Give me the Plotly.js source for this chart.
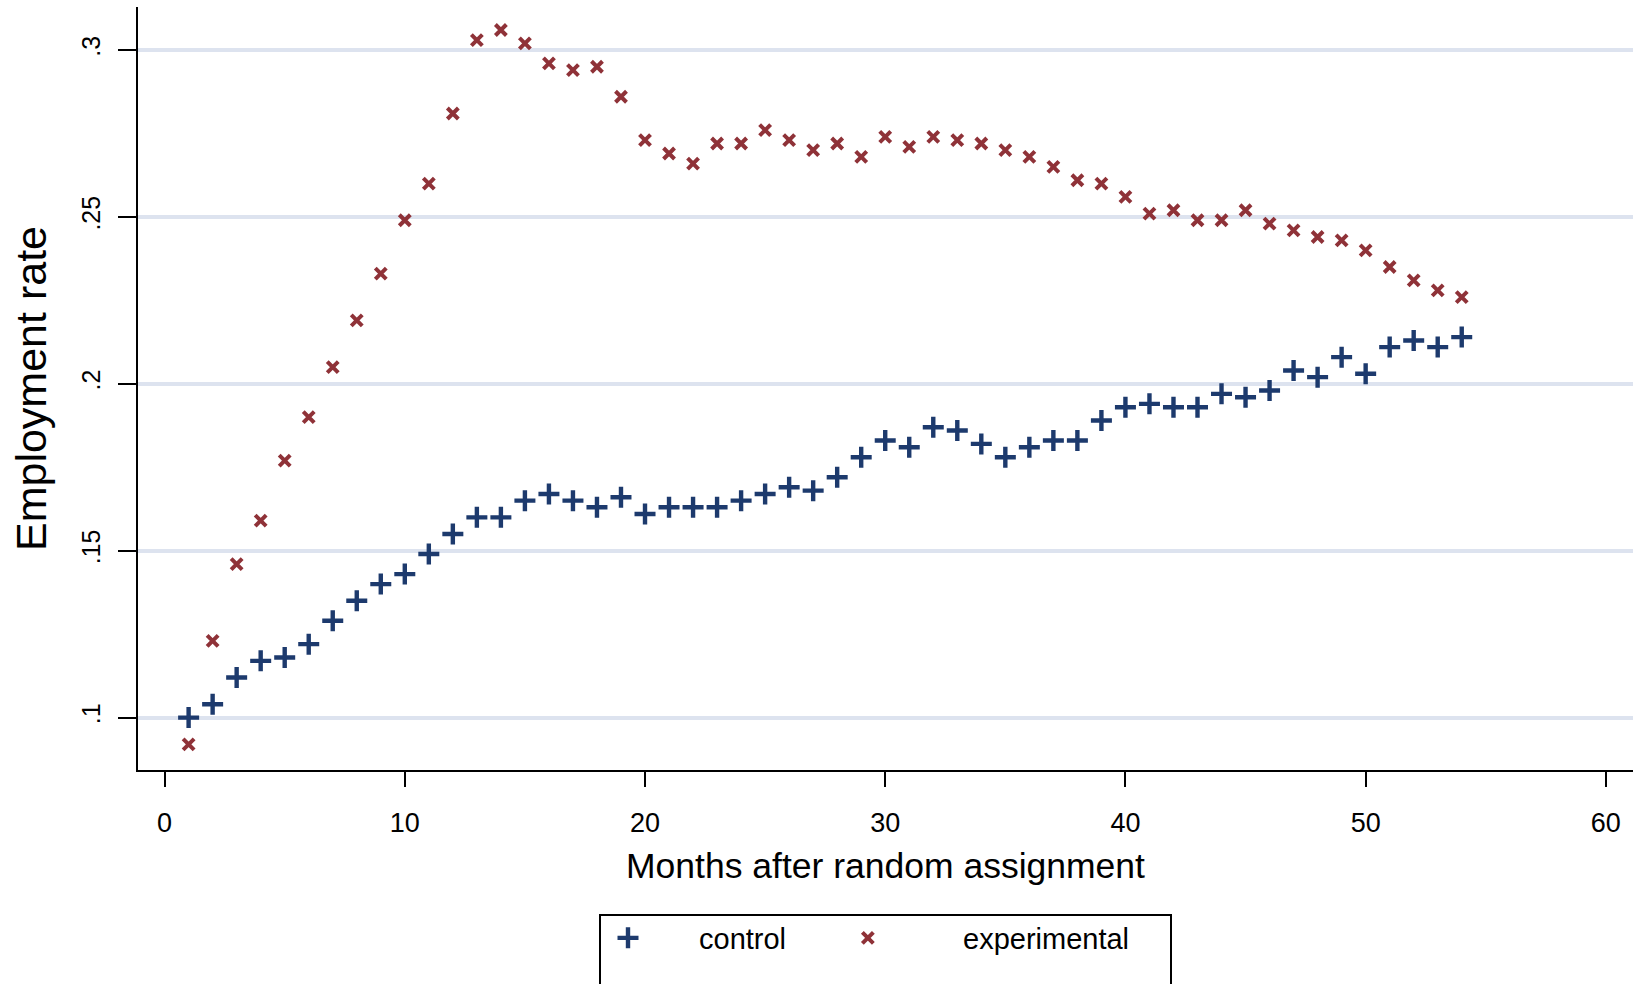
<!DOCTYPE html>
<html>
<head>
<meta charset="utf-8">
<script src="https://cdn.plot.ly/plotly-3.0.1.min.js"></script>
<style>
  html, body { margin: 0; padding: 0; background: #ffffff; }
  #chart { width: 1633px; height: 984px; }
</style>
</head>
<body>
<div id="chart"></div>
<script>
// Months since random assignment
const months = [
  1, 2, 3, 4, 5, 6, 7, 8, 9, 10,
  11, 12, 13, 14, 15, 16, 17, 18, 19, 20,
  21, 22, 23, 24, 25, 26, 27, 28, 29, 30,
  31, 32, 33, 34, 35, 36, 37, 38, 39, 40,
  41, 42, 43, 44, 45, 46, 47, 48, 49, 50,
  51, 52, 53, 54
];

// Employment rate, control group
const controlRate = [
  0.100, 0.104, 0.112, 0.117, 0.118, 0.122, 0.129, 0.135, 0.140, 0.143,
  0.149, 0.155, 0.160, 0.160, 0.165, 0.167, 0.165, 0.163, 0.166, 0.161,
  0.163, 0.163, 0.163, 0.165, 0.167, 0.169, 0.168, 0.172, 0.178, 0.183,
  0.181, 0.187, 0.186, 0.182, 0.178, 0.181, 0.183, 0.183, 0.189, 0.193,
  0.194, 0.193, 0.193, 0.197, 0.196, 0.198, 0.204, 0.202, 0.208, 0.203,
  0.211, 0.213, 0.211, 0.214
];

// Employment rate, experimental group
const experimentalRate = [
  0.092, 0.123, 0.146, 0.159, 0.177, 0.190, 0.205, 0.219, 0.233, 0.249,
  0.260, 0.281, 0.303, 0.306, 0.302, 0.296, 0.294, 0.295, 0.286, 0.273,
  0.269, 0.266, 0.272, 0.272, 0.276, 0.273, 0.270, 0.272, 0.268, 0.274,
  0.271, 0.274, 0.273, 0.272, 0.270, 0.268, 0.265, 0.261, 0.260, 0.256,
  0.251, 0.252, 0.249, 0.249, 0.252, 0.248, 0.246, 0.244, 0.243, 0.240,
  0.235, 0.231, 0.228, 0.226
];

// Axis ticks
const xTickVals = [0, 10, 20, 30, 40, 50, 60];
const yTickVals = [0.1, 0.15, 0.2, 0.25, 0.3];
const yTickText = ['.1', '.15', '.2', '.25', '.3'];

// Legend labels (non-breaking spaces widen the gap before the second label)
const seriesNames = ['control\u2009', '\u00a0\u00a0\u00a0experimental'];

const FONT = 'Liberation Sans, Arial, Helvetica, sans-serif';
const NAVY = '#1d3a6d';
const MAROON = '#8f3238';

// figure geometry (pixels)
const W = 1633, H = 984;
const M = { l: 138, r: 0, t: 7, b: 214 };
const plotW = W - M.l - M.r;
const plotH = H - M.t - M.b;
const px = v => (v - M.l) / plotW;           // pixel x -> paper x
const py = v => (H - M.b - v) / plotH;       // pixel y -> paper y

const traces = [
  {
    x: months, y: controlRate, name: seriesNames[0],
    type: 'scatter', mode: 'markers',
    marker: { symbol: 'cross-thin', size: 15, color: NAVY,
              line: { color: NAVY, width: 4.4 } }
  },
  {
    x: months, y: experimentalRate, name: seriesNames[1],
    type: 'scatter', mode: 'markers',
    marker: { symbol: 'x-thin', size: 11, color: MAROON,
              line: { color: MAROON, width: 4 } }
  }
];

const layout = {
  width: W, height: H,
  margin: M,
  paper_bgcolor: '#ffffff',
  plot_bgcolor: '#ffffff',
  font: { family: FONT, color: '#000000' },
  showlegend: true,
  xaxis: {
    range: [-1.107, 61.13],
    tickvals: xTickVals,
    ticks: 'outside', ticklen: 15, tickwidth: 2, tickcolor: '#000000',
    ticklabelstandoff: 13,
    tickfont: { size: 27, family: FONT },
    showline: true, linecolor: '#000000', linewidth: 2,
    showgrid: false, zeroline: false,
    title: { text: 'Months after random assignment',
             font: { size: 35.5, family: FONT }, standoff: 16 }
  },
  yaxis: {
    range: [0.0843, 0.3129],
    tickvals: yTickVals, ticktext: yTickText,
    tickangle: -90,
    ticks: 'outside', ticklen: 18, tickwidth: 2, tickcolor: '#000000',
    ticklabelstandoff: 8,
    tickfont: { size: 25, family: FONT },
    showline: true, linecolor: '#000000', linewidth: 2,
    showgrid: true, gridcolor: '#dde3ef', gridwidth: 4,
    zeroline: false,
    title: { text: 'Employment rate',
             font: { size: 43, family: FONT }, standoff: 17 }
  },
  legend: {
    orientation: 'h',
    x: px(557), xanchor: 'left',
    y: py(938), yanchor: 'middle',
    bgcolor: 'rgba(0,0,0,0)', borderwidth: 0,
    font: { size: 29, family: FONT },
    itemwidth: 132
  },
  shapes: [
    // legend frame
    { type: 'rect', xref: 'paper', yref: 'paper',
      x0: px(600), x1: px(1171), y0: py(1010), y1: py(915),
      line: { color: '#000000', width: 2 }, fillcolor: 'rgba(0,0,0,0)',
      layer: 'below' }
  ]
};

Plotly.newPlot('chart', traces, layout, { displayModeBar: false, staticPlot: true });
</script>
</body>
</html>
